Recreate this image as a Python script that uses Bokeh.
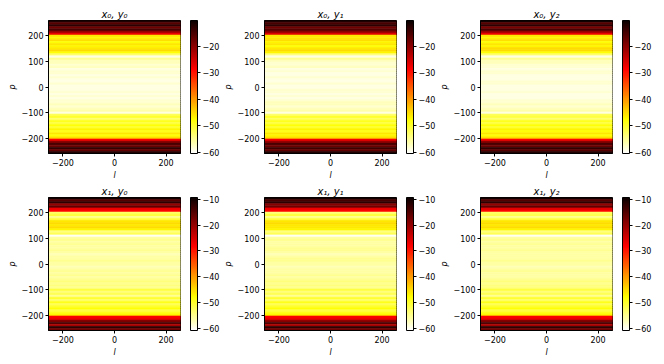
import numpy as np
from bokeh.plotting import figure
from bokeh.layouts import gridplot
from bokeh.models import (LinearColorMapper, ColorBar, FixedTicker,
                          CustomJSTickFormatter, ColumnDataSource)
from bokeh.transform import transform
from bokeh.embed import file_html
from bokeh.resources import INLINE

# ---------------- data (row values, top p=+252 down to p=-252, step 8) -------------
titles = ["x\u2080, y\u2080", "x\u2080, y\u2081", "x\u2080, y\u2082",
          "x\u2081, y\u2080", "x\u2081, y\u2081", "x\u2081, y\u2082"]

v_x0_y0 = [-12, -16, -13, -18, -15, -21, -27,
           -46, -47, -45, -48, -46, -47, -46, -45, -48,
           -53, -59, -55, -57,
           -57, -58, -57, -59, -58, -58, -59, -58, -59, -59, -58, -59,
           -59, -59, -58, -59, -58, -59, -58, -58, -57, -58, -57, -56,
           -59, -52, -50, -53, -49, -51, -48, -50, -47, -49, -46, -48, -45,
           -29, -20, -15, -18, -13, -17, -12]
v_x0_y1 = [-12, -15, -13, -18, -16, -20, -26,
           -46, -46, -45, -47, -46, -48, -46, -45, -47,
           -54, -59, -55, -57,
           -58, -58, -57, -59, -58, -59, -59, -58, -59, -59, -58, -59,
           -59, -58, -58, -59, -58, -59, -58, -57, -57, -58, -57, -56,
           -59, -53, -50, -52, -49, -51, -48, -50, -47, -49, -46, -47, -45,
           -28, -21, -15, -18, -14, -17, -12]
v_x0_y2 = [-11, -16, -13, -19, -15, -21, -27,
           -46, -47, -45, -48, -46, -47, -45, -45, -48,
           -53, -59, -55, -57,
           -57, -58, -58, -59, -58, -58, -59, -59, -59, -58, -58, -59,
           -59, -59, -58, -59, -59, -59, -58, -58, -57, -58, -57, -56,
           -59, -52, -51, -53, -49, -51, -48, -50, -47, -48, -46, -48, -45,
           -29, -20, -15, -18, -13, -16, -12]
v_x1_y0 = [-10, -15, -12, -20, -16, -27, -28,
           -53, -50, -55, -51, -46, -45, -46, -45, -47,
           -54, -52, -60, -56,
           -55, -56, -55, -56, -56, -55, -56, -57, -56, -56, -55, -56,
           -56, -57, -56, -55, -56, -55, -56, -55, -54, -55, -54, -55,
           -51, -54, -52, -55, -50, -53, -49, -52, -50, -48, -51, -49, -47,
           -28, -27, -19, -14, -22, -12, -17]
v_x1_y1 = [-10, -14, -12, -19, -17, -27, -28,
           -54, -50, -55, -51, -46, -45, -46, -46, -47,
           -54, -52, -60, -56,
           -55, -56, -56, -56, -55, -55, -56, -57, -56, -55, -55, -56,
           -56, -57, -56, -56, -56, -55, -56, -55, -54, -55, -54, -55,
           -51, -54, -52, -55, -50, -53, -49, -52, -50, -48, -51, -49, -47,
           -28, -27, -20, -14, -22, -12, -17]
v_x1_y2 = [-10, -15, -12, -20, -16, -26, -28,
           -53, -51, -55, -51, -46, -45, -46, -45, -47,
           -54, -52, -60, -56,
           -55, -56, -55, -56, -56, -55, -56, -56, -56, -56, -55, -56,
           -56, -57, -56, -55, -56, -56, -56, -55, -54, -55, -54, -54,
           -51, -54, -52, -55, -50, -53, -49, -52, -50, -48, -51, -49, -47,
           -28, -27, -19, -14, -22, -12, -17]

panel_values = [v_x0_y0, v_x0_y1, v_x0_y2, v_x1_y0, v_x1_y1, v_x1_y2]
row_ranges = [(-60.4, -10.3), (-60.8, -9.3)]
x_ticks = [-200, 0, 200]
y_ticks = [-200, -100, 0, 100, 200]
cb_ticks = [-60, -50, -40, -30, -20, -10]

p_top = np.arange(256, -256, -8)        # row top edges
p_bottom = p_top - 8


def hot_r(n=256):
    cols = []
    for i in range(n):
        t = 1 - i / (n - 1)
        r = 0.0416 + (1 - 0.0416) * min(1.0, t / 0.365079)
        g = min(1.0, max(0.0, (t - 0.365079) / (0.746032 - 0.365079)))
        b = min(1.0, max(0.0, (t - 0.746032) / (1 - 0.746032)))
        cols.append("#%02x%02x%02x" % (round(r * 255), round(g * 255), round(b * 255)))
    return cols


PAL = hot_r()
FONT = "DejaVu Sans"
minus_fmt = CustomJSTickFormatter(code="return tick.toString().replace('-', '\u2212');")

borders_top = [20, 14]
borders_bottom = [26, 30]
borders_left = [48, 42, 43]
borders_right = [40, 40, 42]

figs = []
for k, vals in enumerate(panel_values):
    row, col = divmod(k, 3)
    lo, hi = row_ranges[row]
    mapper = LinearColorMapper(palette=PAL, low=lo, high=hi)
    p = figure(frame_width=132, frame_height=133, output_backend="svg",
               toolbar_location=None, x_range=(-256, 256), y_range=(-256, 256),
               min_border_left=borders_left[col], min_border_top=borders_top[row],
               min_border_bottom=borders_bottom[row],
               min_border_right=borders_right[col])
    src = ColumnDataSource(dict(top=p_top, bottom=p_bottom, v=vals))
    p.quad(left=-256, right=256, top="top", bottom="bottom", source=src,
           fill_color=transform("v", mapper), line_color=transform("v", mapper),
           line_width=0.6)
    p.title.text = titles[k]
    p.title.align = "center"
    p.title.text_font = FONT
    p.title.text_font_style = "italic"
    p.title.text_font_size = "10px"
    p.title.text_color = "black"
    p.title.standoff = 2
    p.title.offset = 0
    p.grid.visible = False
    p.outline_line_color = "black"
    p.outline_line_width = 1
    for ax in (p.xaxis[0], p.yaxis[0]):
        ax.major_label_text_font = FONT
        ax.major_label_text_font_size = "8px"
        ax.major_label_text_color = "black"
        ax.axis_label_text_font = FONT
        ax.axis_label_text_font_size = "8px"
        ax.axis_label_text_font_style = "italic"
        ax.axis_label_text_color = "black"
        ax.minor_tick_line_color = None
        ax.major_tick_line_color = "black"
        ax.major_tick_in = 0
        ax.major_tick_out = 3
        ax.major_label_standoff = 2
        ax.axis_label_standoff = 2
        ax.formatter = minus_fmt
        ax.axis_line_color = "black"
    p.xaxis.ticker = FixedTicker(ticks=x_ticks)
    p.yaxis.ticker = FixedTicker(ticks=y_ticks)
    p.xaxis.axis_label = "l"
    p.yaxis.axis_label = "p"
    cb = ColorBar(color_mapper=mapper, ticker=FixedTicker(ticks=cb_ticks),
                  formatter=minus_fmt, width=7, height=133, padding=0,
                  margin=0, location=(142, 0), major_tick_out=3, major_tick_in=0,
                  major_tick_line_color="black", bar_line_color="black",
                  label_standoff=2, major_label_text_font=FONT,
                  major_label_text_font_size="8px",
                  major_label_text_color="black", background_fill_alpha=0,
                  border_line_color=None, minor_tick_line_color=None)
    p.add_layout(cb, "center")
    figs.append(p)

grid = gridplot([figs[0:3], figs[3:6]], toolbar_location=None)
open("out.html", "w").write(file_html(grid, INLINE))
